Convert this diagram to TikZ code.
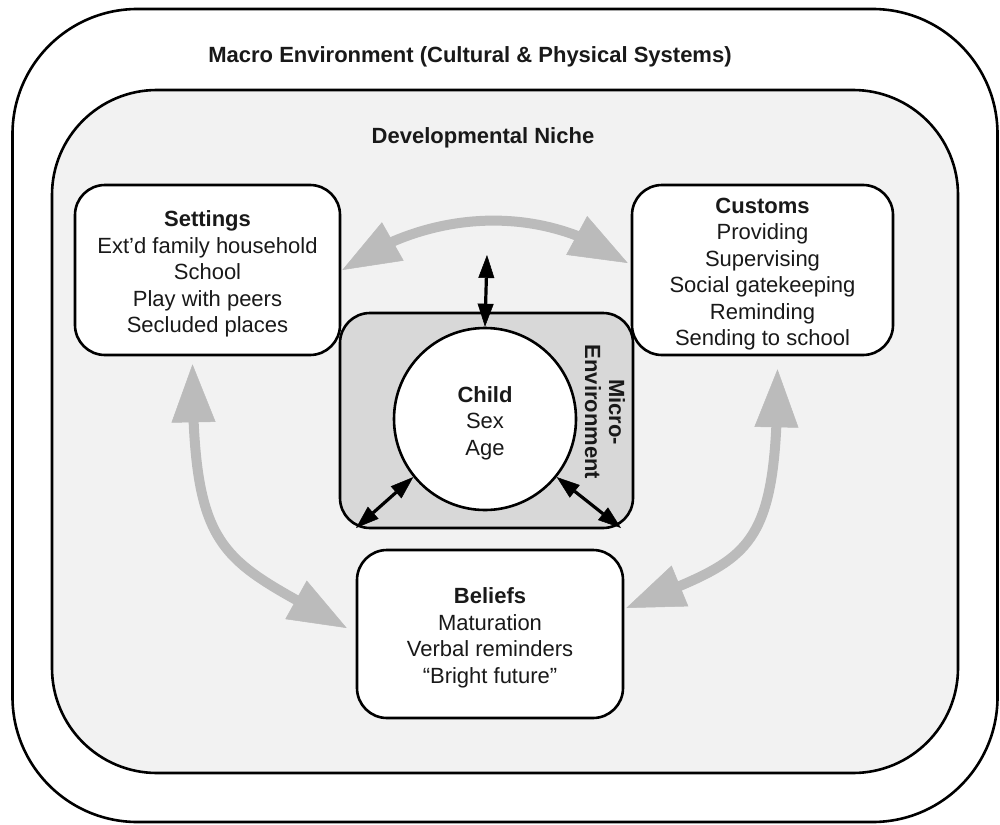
\documentclass[tikz,border=0pt]{standalone}
\usepackage{fontspec}
\setmainfont{Liberation Sans}
\usetikzlibrary{arrows.meta,calc,bending}
\definecolor{nichegray}{RGB}{242,242,242}
\definecolor{microgray}{RGB}{216,216,216}
\definecolor{arrowgray}{RGB}{187,187,187}
\definecolor{inkgray}{RGB}{25,25,25}
\begin{document}
\begin{tikzpicture}[x=1pt,y=-1pt,
  frame/.style={draw=black,line width=2.6pt},
  region/.style={frame,inner sep=0pt},
  infobox/.style={frame,fill=white,rounded corners=30pt,inner sep=0pt},
  boxtext/.style={inner sep=0pt,align=center,text=inkgray,font=\fontsize{22}{26.5}\selectfont},
  titletext/.style={font=\bfseries\fontsize{22}{26}\selectfont,inner sep=0pt,text=inkgray},
  bigarrow/.style={draw=arrowgray,line width=10pt,
    {Triangle[length=58pt,width=44pt,line width=0.5pt,flex]}-{Triangle[length=58pt,width=44pt,line width=0.5pt,flex]}},
  smallarrow/.style={draw=black,line width=3.2pt,
    {Triangle[length=23pt,width=16pt,line width=0.5pt]}-{Triangle[length=23pt,width=16pt,line width=0.5pt]}}
]
\useasboundingbox (0,0) rectangle (1000,824);
\fill[white] (0,0) rectangle (1000,824);

% outer regions
\node[region,fill=white,rounded corners=125pt,minimum width=985pt,minimum height=813pt] (macro) at (505,415.5) {};
\node[region,fill=nichegray,rounded corners=105pt,minimum width=906pt,minimum height=683pt] (niche) at (505,431.5) {};

\node[titletext] (macrotitle) at (470,57) {Macro Environment (Cultural \& Physical Systems)};
\node[titletext] (nichetitle) at (483,138) {Developmental Niche};

% boxes
\node[infobox,minimum width=265pt,minimum height=170pt] (settings) at (207.5,270) {};
\node[boxtext] (settingstext) at ($(settings.center)+(0,4)$)
  {\textbf{Settings}\\Ext’d family household\\School\\Play with peers\\Secluded places};
\node[infobox,minimum width=261pt,minimum height=170pt] (customs) at (762.5,270) {};
\node[boxtext] (customstext) at ($(customs.center)+(0,4)$)
  {\textbf{Customs}\\Providing\\Supervising\\Social gatekeeping\\Reminding\\Sending to school};
\node[infobox,minimum width=266pt,minimum height=168pt] (beliefs) at (490,634) {};
\node[boxtext] (beliefstext) at ($(beliefs.center)+(0,4)$)
  {\textbf{Beliefs}\\Maturation\\Verbal reminders\\“Bright future”};

% micro environment
\node[frame,fill=microgray,rounded corners=30pt,inner sep=0pt,minimum width=293pt,minimum height=215pt] (micro) at (486.5,420.5) {};
\node[titletext,rotate=-90,align=center,font=\bfseries\fontsize{22}{24}\selectfont] (microlabel) at (605,412) {Micro-\\Environment};
\node[frame,fill=white,circle,inner sep=0pt,minimum size=182pt] (child) at (485,419) {};
\node[boxtext] (childtext) at ($(child.center)+(0,4)$) {\textbf{Child}\\Sex\\Age};

% black arrows
\coordinate (mtop) at (487,255);
\coordinate (mbl) at (356,528);
\coordinate (mbr) at (621,528);
\draw[smallarrow] (mtop) -- (child.north);
\draw[smallarrow] (child.219) -- (mbl);
\draw[smallarrow] (child.321) -- (mbr);

% gray arrows
\draw[bigarrow] ($(settings.east)+(1,0)$) .. controls +(85,-61) and +(-85,-61) .. ($(customs.west)+(-3,-7)$);
\draw[bigarrow] ($(settings.south)+(-15,8)$) .. controls +(0,197) and +(-125,-71) .. ($(beliefs.west)+(-9,-6)$);
\draw[bigarrow] ($(customs.south)+(15,13)$) .. controls +(0,192) and +(122,-51) .. ($(beliefs.east)+(2,-26)$);
\end{tikzpicture}
\end{document}
